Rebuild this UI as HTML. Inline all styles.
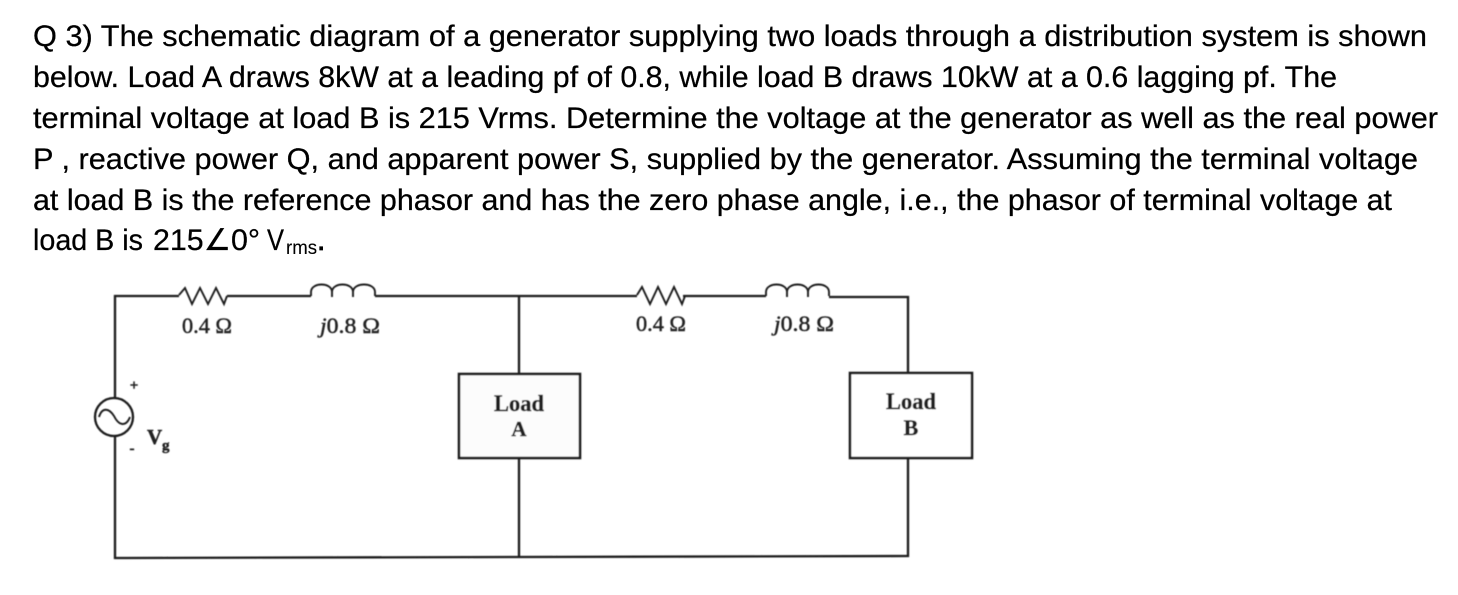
<!DOCTYPE html>
<html><head><meta charset="utf-8"><style>
html,body{margin:0;padding:0;background:#fff;width:1458px;height:595px;overflow:hidden}
svg{display:block}
.q{font-family:"Liberation Sans",sans-serif;font-size:30px;fill:#000;stroke:#000;stroke-width:.25}
.c{font-family:"Liberation Serif",serif;fill:#222;stroke:#222;stroke-width:.45}
</style></head><body>
<svg width="1458" height="595" viewBox="0 0 1458 595" xmlns="http://www.w3.org/2000/svg">
<defs><filter id="b" x="-5%" y="-5%" width="110%" height="110%"><feGaussianBlur stdDeviation="0.5"/></filter></defs>
<text class="q" x="33" y="46" textLength="1394" lengthAdjust="spacingAndGlyphs">Q 3)  The schematic diagram of a generator supplying two loads through a distribution system is shown</text>
<text class="q" x="33" y="87" textLength="1304" lengthAdjust="spacingAndGlyphs">below. Load A draws 8kW at a leading pf of 0.8, while load B draws 10kW at a 0.6 lagging pf. The</text>
<text class="q" x="33" y="128" textLength="1405" lengthAdjust="spacingAndGlyphs">terminal voltage at load B is 215 Vrms. Determine the voltage at the generator as well as the real power</text>
<text class="q" x="33" y="169" textLength="1385" lengthAdjust="spacingAndGlyphs">P , reactive power Q, and apparent power S, supplied by the generator. Assuming the terminal voltage</text>
<text class="q" x="33" y="210" textLength="1359" lengthAdjust="spacingAndGlyphs">at load B is the reference phasor and has the zero phase angle, i.e., the phasor of terminal voltage at</text>
<text class="q" x="33" y="250" textLength="110" lengthAdjust="spacingAndGlyphs">load B is</text>
<text class="q" x="153" y="250" textLength="107" lengthAdjust="spacingAndGlyphs">215∠0°</text>
<text class="q" x="267" y="250" textLength="17" lengthAdjust="spacingAndGlyphs">V</text>
<text class="q" x="286" y="254" style="font-size:19px;stroke-width:.1" textLength="31" lengthAdjust="spacingAndGlyphs">rms</text>
<text class="q" x="317" y="250" style="stroke-width:.8">.</text>

<g filter="url(#b)">
<g fill="none" stroke="#1e1e1e" stroke-width="2.3">
<path d="M115 398V296H179M227 296H311M375 296H637M683 296H766M829 297H908V373"/>
<path d="M115 436V558L519 557L908 556V458"/>
<path d="M519 296V374M519 458V557"/>
<path stroke-width="1.9" d="M179 295L185 288L192 304L200 288L208 304L216 288L224 304L227 296"/>
<path stroke-width="1.9" d="M637 295L642 287L650 304L658 287L666 304L674 287L682 304L685 296"/>
<path stroke-width="1.9" d="M311 296V292C311 282 332 282 332 292V297M332 292C332 282 353 282 353 292V297M353 292C353 282 375 282 375 292V296"/>
<path stroke-width="1.9" d="M766 296V292C766 282 787 282 787 292V297M787 292C787 282 808 282 808 292V297M808 292C808 282 829 282 829 292V296"/>
<circle cx="114" cy="417" r="19"/>
<path stroke-width="1.9" d="M99 417C102 407 109 408 114 416C119 426 126 427 130 417"/>
<rect x="459" y="374" width="121" height="84" fill="#fcfcfc" stroke-width="2.6"/>
<rect x="850" y="373" width="122" height="85" fill="#fff" stroke-width="2.6"/>
</g>
<text class="c" x="182" y="333" font-size="22" textLength="50" lengthAdjust="spacingAndGlyphs">0.4 Ω</text>
<text class="c" x="320" y="333" font-size="22" textLength="60" lengthAdjust="spacingAndGlyphs"><tspan font-style="italic">j</tspan>0.8 Ω</text>
<text class="c" x="636" y="331" font-size="22" textLength="50" lengthAdjust="spacingAndGlyphs">0.4 Ω</text>
<text class="c" x="774" y="331" font-size="22" textLength="60" lengthAdjust="spacingAndGlyphs"><tspan font-style="italic">j</tspan>0.8 Ω</text>
<text class="c" x="494" y="411" font-size="23" font-weight="bold" textLength="50" lengthAdjust="spacingAndGlyphs">Load</text>
<text class="c" x="519" y="436" font-size="21" font-weight="bold" text-anchor="middle">A</text>
<text class="c" x="886" y="409" font-size="23" font-weight="bold" textLength="50" lengthAdjust="spacingAndGlyphs">Load</text>
<text class="c" x="911" y="435" font-size="22" font-weight="bold" text-anchor="middle">B</text>
<text class="c" x="134" y="390" font-size="15" font-weight="bold" text-anchor="middle">+</text>
<text class="c" x="132" y="453" font-size="15" font-weight="bold" text-anchor="middle">-</text>
<text class="c" x="147" y="444" font-size="21" font-weight="bold">V</text>
<text class="c" x="162" y="450" font-size="15" font-weight="bold">g</text>
</g>
</svg>
</body></html>
